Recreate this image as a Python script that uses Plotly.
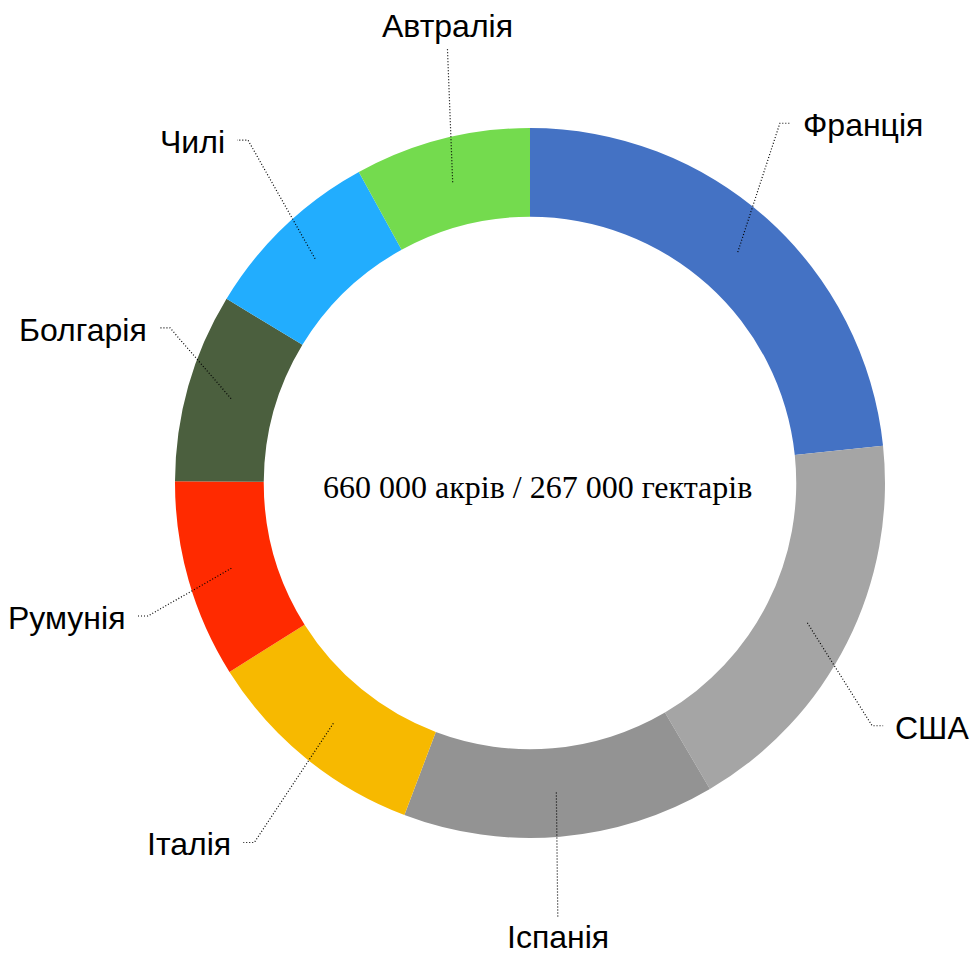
import math
import plotly.graph_objects as go

# ---- data -------------------------------------------------------------
countries = ["Франція", "США", "Іспанія", "Італія", "Румунія", "Болгарія", "Чилі", "Автралія"]
shares = [23.3, 18.2, 14.2, 10.3, 9.0, 8.6, 8.3, 8.0]
colors = ["#4472C4", "#A5A5A5", "#939393", "#F7B900", "#FF2A00", "#4B5F3E", "#22ADFE", "#74DB4E"]
center_text = "660 000 акрів / 267 000 гектарів"

# ---- layout constants ---------------------------------------------------
W, H = 973, 955
CX, CY, R = 530, 483, 355          # donut centre and outer radius (px)
HOLE = 0.75
# leader-line placement: angle shift from slice middle (deg), elbow radius (px), tail direction
leader_shift = [-7.2, 8.6, 1.2, -1.8, -3.25, 7.55, 4.35, 3.65]
leader_radius = [438, 419.5, 435, 453, 404.5, 392, 444, 442]
tail_dir = [1, 1, 0, -1, -1, -1, -1, 0]
TAIL = 11
GAP = 10
LABEL_FONT = dict(family="Liberation Sans, Arial, sans-serif", size=32, color="#000000")


def px(x):
    return x / W


def py(y):
    return 1 - y / H


fig = go.Figure()
fig.add_trace(go.Pie(
    labels=countries, values=shares, hole=HOLE, sort=False,
    direction="clockwise", rotation=0,
    marker=dict(colors=colors, line=dict(width=0)),
    textinfo="none", hoverinfo="label+percent", showlegend=False,
    domain=dict(x=[px(CX - R), px(CX + R)], y=[py(CY + R), py(CY - R)]),
))

shapes = []
annotations = []
total = sum(shares)
cum = 0.0
r_mid = R * (1 + HOLE) / 2
for name, v, sh, rr, td in zip(countries, shares, leader_shift, leader_radius, tail_dir):
    mid = (cum + v / 2) / total * 2 * math.pi
    cum += v
    sx, sy = CX + r_mid * math.sin(mid), CY - r_mid * math.cos(mid)
    a2 = mid + math.radians(sh)
    ex, ey = CX + rr * math.sin(a2), CY - rr * math.cos(a2)
    path = f"M {px(sx)} {py(sy)} L {px(ex)} {py(ey)}"
    if td != 0:
        tx = ex + TAIL * td
        path += f" L {px(tx)} {py(ey)}"
        annotations.append(dict(
            x=px(tx + GAP * td), y=py(ey + 2), xref="paper", yref="paper",
            text=name, showarrow=False, font=LABEL_FONT,
            xanchor="left" if td > 0 else "right", yanchor="middle"))
    else:
        below = ey > CY
        annotations.append(dict(
            x=px(ex), y=py(ey + (20 if below else -23)), xref="paper", yref="paper",
            text=name, showarrow=False, font=LABEL_FONT,
            xanchor="center", yanchor="middle"))
    shapes.append(dict(type="path", path=path, xref="paper", yref="paper",
                       layer="above", line=dict(color="#000000", width=1.2, dash="1px,2px")))

annotations.append(dict(
    x=px(CX + 7), y=py(CY + 4), xref="paper", yref="paper", text=center_text,
    showarrow=False, xanchor="center", yanchor="middle",
    font=dict(family="Liberation Serif, Times New Roman, serif", size=32, color="#000000")))

fig.update_layout(
    width=W, height=H, margin=dict(l=0, r=0, t=0, b=0),
    paper_bgcolor="white", plot_bgcolor="white",
    shapes=shapes, annotations=annotations, showlegend=False,
)

fig.write_html(
    "out.html",
    config={"displayModeBar": False},
    post_script="document.body.style.margin='0px';"
                "document.documentElement.style.overflow='hidden';",
)
